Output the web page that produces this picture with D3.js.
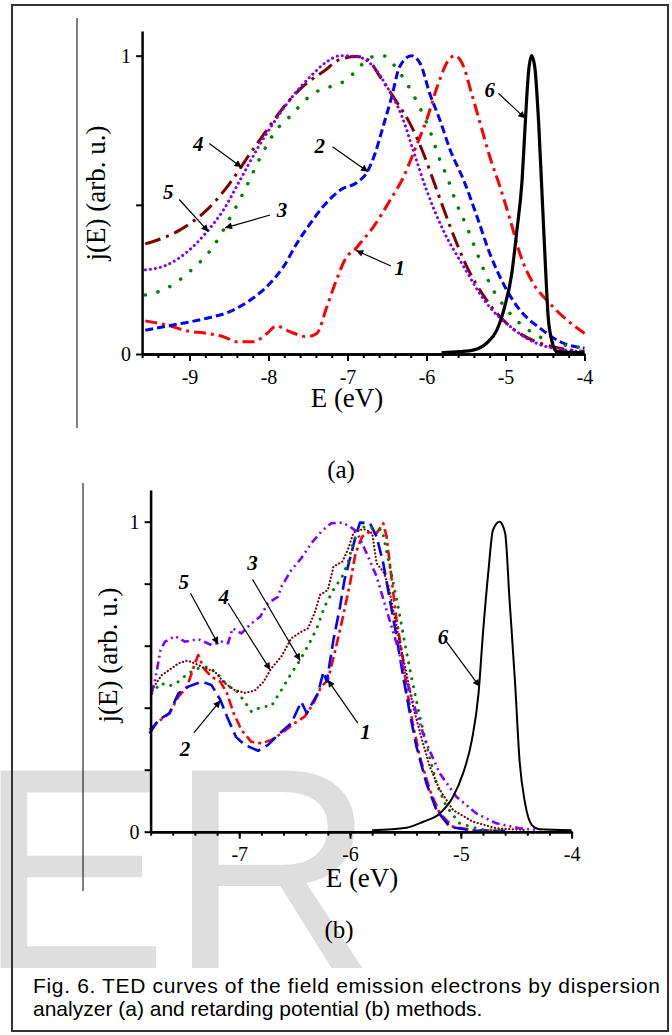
<!DOCTYPE html>
<html>
<head>
<meta charset="utf-8">
<script src="https://cdn.jsdelivr.net/npm/d3@7"></script>
<style>
  body { margin: 0; background: #fff; }
  svg { display: block; }
</style>
</head>
<body>
<script>
// ---- panel (a): dispersion analyzer, [E (eV), j (arb. u.)]
const a1 = [[-9.56,0.111],[-9.29,0.097],[-9.04,0.078],[-8.78,0.069],[-8.57,0.058],[-8.40,0.041],[-8.19,0.041],[-8.02,0.069],[-7.90,0.094],[-7.73,0.075],[-7.52,0.058],[-7.39,0.069],[-7.26,0.159],[-7.14,0.248],[-7.01,0.326],[-6.91,0.349],[-6.84,0.371],[-6.67,0.427],[-6.46,0.516],[-6.29,0.594],[-6.15,0.684],[-6.0,0.784],[-5.85,0.907],[-5.72,0.986],[-5.64,1.0],[-5.53,0.963],[-5.43,0.874],[-5.32,0.773],[-5.20,0.662],[-5.07,0.561],[-4.94,0.449],[-4.82,0.338],[-4.65,0.237],[-4.48,0.181],[-4.27,0.125],[-4.0,0.069]];
const a2 = [[-9.56,0.080],[-9.21,0.097],[-8.78,0.120],[-8.49,0.142],[-8.23,0.181],[-8.02,0.226],[-7.81,0.293],[-7.64,0.371],[-7.47,0.438],[-7.31,0.494],[-7.09,0.550],[-6.88,0.575],[-6.76,0.606],[-6.65,0.673],[-6.55,0.762],[-6.44,0.863],[-6.34,0.963],[-6.19,1.0],[-6.08,0.974],[-5.96,0.874],[-5.83,0.784],[-5.70,0.684],[-5.53,0.583],[-5.36,0.460],[-5.20,0.338],[-5.03,0.237],[-4.82,0.148],[-4.56,0.086],[-4.31,0.041],[-4.0,0.019]];
const a3 = [[-9.56,0.198],[-9.29,0.220],[-9.0,0.276],[-8.70,0.360],[-8.49,0.455],[-8.28,0.561],[-8.11,0.656],[-7.90,0.751],[-7.73,0.796],[-7.43,0.874],[-7.22,0.896],[-7.05,0.913],[-6.88,0.952],[-6.72,0.994],[-6.55,1.0],[-6.38,0.958],[-6.25,0.907],[-6.06,0.812],[-5.96,0.751],[-5.83,0.650],[-5.74,0.594],[-5.62,0.505],[-5.49,0.427],[-5.36,0.338],[-5.20,0.237],[-4.98,0.148],[-4.77,0.092],[-4.61,0.064],[-4.39,0.036],[-4.18,0.027],[-4.0,0.019]];
const a4 = [[-9.56,0.369],[-9.12,0.416],[-8.78,0.483],[-8.49,0.572],[-8.23,0.673],[-8.02,0.751],[-7.77,0.840],[-7.52,0.907],[-7.31,0.946],[-7.09,0.988],[-6.88,0.997],[-6.74,0.986],[-6.59,0.930],[-6.38,0.846],[-6.21,0.773],[-6.04,0.673],[-5.87,0.550],[-5.70,0.427],[-5.49,0.293],[-5.24,0.181],[-4.94,0.092],[-4.61,0.041],[-4.31,0.019],[-4.0,0.008]];
const a5 = [[-9.56,0.282],[-9.29,0.298],[-9.0,0.349],[-8.76,0.416],[-8.57,0.483],[-8.36,0.583],[-8.15,0.684],[-7.94,0.773],[-7.73,0.852],[-7.47,0.930],[-7.26,0.980],[-7.09,1.0],[-6.88,0.997],[-6.72,0.976],[-6.50,0.896],[-6.31,0.796],[-6.17,0.684],[-6.0,0.550],[-5.79,0.416],[-5.53,0.293],[-5.24,0.170],[-4.94,0.092],[-4.61,0.036],[-4.30,0.015],[-4.0,0.008]];
const a6 = [[-5.81,0.004],[-5.58,0.008],[-5.41,0.013],[-5.24,0.036],[-5.11,0.080],[-5.01,0.159],[-4.92,0.271],[-4.86,0.405],[-4.79,0.583],[-4.75,0.773],[-4.71,0.941],[-4.67,1.0],[-4.63,0.963],[-4.58,0.773],[-4.54,0.550],[-4.50,0.326],[-4.46,0.125],[-4.41,0.041],[-4.35,0.008],[-4.0,0.004]];

// ---- panel (b): retarding potential
const b1 = [[-7.81,0.328],[-7.73,0.355],[-7.63,0.382],[-7.55,0.435],[-7.47,0.468],[-7.40,0.543],[-7.37,0.570],[-7.32,0.527],[-7.25,0.500],[-7.17,0.484],[-7.11,0.446],[-7.05,0.382],[-6.98,0.328],[-6.89,0.290],[-6.80,0.285],[-6.71,0.296],[-6.62,0.317],[-6.50,0.350],[-6.41,0.371],[-6.33,0.414],[-6.26,0.468],[-6.20,0.489],[-6.14,0.575],[-6.07,0.683],[-6.0,0.801],[-5.95,0.898],[-5.89,0.952],[-5.82,0.968],[-5.76,0.963],[-5.70,0.995],[-5.67,0.952],[-5.62,0.801],[-5.58,0.683],[-5.53,0.575],[-5.49,0.468],[-5.44,0.360],[-5.37,0.242],[-5.28,0.135],[-5.19,0.059],[-5.07,0.016],[-4.89,0.005],[-4.60,0.003]];
const b2 = [[-7.81,0.317],[-7.73,0.360],[-7.63,0.382],[-7.55,0.446],[-7.46,0.468],[-7.34,0.484],[-7.25,0.473],[-7.17,0.425],[-7.11,0.371],[-7.03,0.306],[-6.95,0.280],[-6.83,0.261],[-6.74,0.280],[-6.65,0.312],[-6.53,0.350],[-6.44,0.419],[-6.39,0.382],[-6.35,0.409],[-6.29,0.446],[-6.24,0.516],[-6.21,0.484],[-6.15,0.618],[-6.09,0.726],[-6.05,0.812],[-5.98,0.909],[-5.95,0.952],[-5.91,0.997],[-5.82,0.995],[-5.76,0.952],[-5.70,0.866],[-5.64,0.747],[-5.58,0.629],[-5.52,0.500],[-5.46,0.382],[-5.40,0.274],[-5.31,0.156],[-5.22,0.070],[-5.10,0.016],[-4.89,0.003],[-4.60,0.002]];
const b3 = [[-7.79,0.446],[-7.71,0.479],[-7.63,0.470],[-7.55,0.484],[-7.46,0.511],[-7.37,0.527],[-7.28,0.532],[-7.20,0.511],[-7.11,0.473],[-7.02,0.452],[-6.95,0.419],[-6.89,0.387],[-6.80,0.403],[-6.71,0.405],[-6.62,0.457],[-6.53,0.511],[-6.45,0.554],[-6.36,0.613],[-6.30,0.656],[-6.23,0.726],[-6.15,0.780],[-6.07,0.823],[-6.02,0.866],[-5.97,0.935],[-5.91,0.984],[-5.79,0.979],[-5.71,0.973],[-5.64,0.855],[-5.56,0.715],[-5.50,0.597],[-5.44,0.489],[-5.37,0.371],[-5.29,0.253],[-5.22,0.156],[-5.13,0.081],[-5.01,0.027],[-4.83,0.008],[-4.59,0.003]];
const b4 = [[-7.79,0.457],[-7.70,0.505],[-7.61,0.527],[-7.55,0.543],[-7.47,0.552],[-7.40,0.543],[-7.31,0.527],[-7.22,0.516],[-7.13,0.479],[-7.04,0.457],[-6.95,0.448],[-6.86,0.455],[-6.78,0.484],[-6.71,0.527],[-6.62,0.565],[-6.53,0.624],[-6.44,0.645],[-6.38,0.656],[-6.32,0.705],[-6.27,0.764],[-6.20,0.780],[-6.15,0.855],[-6.07,0.871],[-6.02,0.909],[-5.97,0.963],[-5.94,0.973],[-5.86,0.975],[-5.80,0.963],[-5.76,0.866],[-5.70,0.839],[-5.65,0.790],[-5.61,0.715],[-5.55,0.608],[-5.49,0.511],[-5.43,0.403],[-5.35,0.296],[-5.28,0.210],[-5.19,0.135],[-5.07,0.070],[-4.89,0.032],[-4.68,0.011],[-4.41,0.005]];
const b5 = [[-7.79,0.448],[-7.76,0.489],[-7.71,0.586],[-7.67,0.613],[-7.58,0.631],[-7.49,0.613],[-7.37,0.621],[-7.25,0.602],[-7.16,0.613],[-7.10,0.608],[-7.06,0.656],[-6.98,0.640],[-6.89,0.672],[-6.81,0.694],[-6.74,0.737],[-6.65,0.758],[-6.62,0.790],[-6.53,0.844],[-6.44,0.882],[-6.35,0.930],[-6.26,0.968],[-6.17,0.995],[-6.07,0.997],[-6.0,0.984],[-5.94,0.968],[-5.85,0.898],[-5.76,0.823],[-5.67,0.715],[-5.58,0.608],[-5.49,0.489],[-5.40,0.382],[-5.31,0.285],[-5.19,0.188],[-5.04,0.113],[-4.86,0.059],[-4.68,0.027],[-4.47,0.011],[-4.29,0.005]];
const b6 = [[-5.80,0.005],[-5.49,0.013],[-5.34,0.032],[-5.19,0.059],[-5.07,0.113],[-4.98,0.188],[-4.90,0.296],[-4.84,0.446],[-4.80,0.640],[-4.75,0.844],[-4.71,0.973],[-4.65,1.0],[-4.60,0.963],[-4.56,0.747],[-4.51,0.479],[-4.47,0.231],[-4.42,0.092],[-4.36,0.022],[-4.29,0.008],[-4.0,0.005]];

// curve labels: [text, label E, label j, arrow from E, j, arrow to E, j]
const aNotes = [
  ["1", -6.34, 0.291, -6.45, 0.295, -6.89, 0.347],
  ["2", -7.35, 0.697, -7.19, 0.695, -6.74, 0.611],
  ["3", -7.83, 0.483, -7.98, 0.466, -8.55, 0.423],
  ["4", -8.89, 0.706, -8.75, 0.706, -8.34, 0.626],
  ["5", -9.27, 0.544, -9.13, 0.518, -8.76, 0.410],
  ["6", -5.20, 0.885, -5.09, 0.874, -4.75, 0.790]
];
const bNotes = [
  ["1", -5.86, 0.323, -5.93, 0.350, -6.20, 0.489],
  ["2", -7.49, 0.269, -7.41, 0.319, -7.17, 0.423],
  ["3", -6.88, 0.868, -6.88, 0.814, -6.45, 0.552],
  ["4", -7.14, 0.758, -7.10, 0.737, -6.72, 0.522],
  ["5", -7.50, 0.806, -7.44, 0.769, -7.19, 0.605],
  ["6", -5.16, 0.629, -5.13, 0.613, -4.83, 0.468]
];

const aMajor = [-9, -8, -7, -6, -5, -4];
const bMajor = [-7, -6, -5, -4];
const caption = ["Fig. 6. TED curves of the field emission electrons by dispersion",
                 "analyzer (a) and retarding potential (b) methods."];

const W = 672, H = 1035;
const serif = "'Liberation Serif', 'Times New Roman', serif";
const sans = "'Liberation Sans', Arial, sans-serif";

const svg = d3.select("body").append("svg")
    .attr("width", W).attr("height", H);

// arrow head
svg.append("defs").append("marker")
    .attr("id", "arr")
    .attr("markerUnits", "userSpaceOnUse")
    .attr("viewBox", "0 0 10 10")
    .attr("refX", 10).attr("refY", 5)
    .attr("markerWidth", 9).attr("markerHeight", 7)
    .attr("orient", "auto")
  .append("path")
    .attr("d", "M0,0 L10,5 L0,10 z")
    .attr("fill", "#000");

// watermark in the background
svg.append("text")
    .attr("x", -23).attr("y", 968)
    .attr("font-family", sans)
    .attr("font-size", 287)
    .attr("fill", "#dedede")
    .text("ER");

// page frame + side rules
svg.append("rect")
    .attr("x", 12).attr("y", 5).attr("width", 656).attr("height", 1026)
    .attr("fill", "none").attr("stroke", "#333").attr("stroke-width", 2);
svg.append("line").attr("x1", 77).attr("x2", 77).attr("y1", 18).attr("y2", 428)
    .attr("stroke", "#000").attr("stroke-width", 1);
svg.append("line").attr("x1", 83).attr("x2", 83).attr("y1", 483).attr("y2", 891)
    .attr("stroke", "#000").attr("stroke-width", 1);

function drawPanel(p) {
    const x = d3.scaleLinear().domain(p.xDomain).range(p.xRange);
    const y = d3.scaleLinear().domain([0, 1]).range(p.yRange);
    y.domain([0, y.invert(p.yTop)]).range([p.yRange[0], p.yTop]);

    const g = svg.append("g");

    // curves
    p.series.forEach(s => {
        const line = d3.line()
            .x(d => x(d[0]))
            .y(d => y(d[1]))
            .curve(s.curve || p.curve);
        g.append("path")
            .datum(s.data)
            .attr("d", line)
            .attr("fill", "none")
            .attr("stroke", s.color)
            .attr("stroke-width", s.width)
            .attr("stroke-dasharray", s.dash)
            .attr("stroke-linecap", s.cap || "butt")
            .attr("stroke-linejoin", "round");
    });

    // minor + major x ticks
    const minors = d3.range(Math.round(p.xDomain[0] * 5), Math.round(p.xDomain[1] * 5) + 1).map(v => v / 5);
    g.append("g")
        .attr("transform", `translate(0,${y(0)})`)
        .call(d3.axisBottom(x).tickValues(minors).tickSize(4).tickSizeOuter(0).tickFormat(""));
    const xa = g.append("g")
        .attr("transform", `translate(0,${y(0)})`)
        .call(d3.axisBottom(x).tickValues(p.major).tickSize(7).tickSizeOuter(0).tickPadding(p.xPad)
              .tickFormat(d => d.toString()));
    xa.selectAll("text").attr("font-family", serif).attr("font-size", 20).attr("fill", "#000");

    const ya = g.append("g")
        .attr("transform", `translate(${x(p.xDomain[0])},0)`)
        .call(d3.axisLeft(y).tickValues(p.yTicks).tickSize(6).tickSizeOuter(0).tickPadding(5)
              .tickFormat(d => (d === 0 || d === 1) ? d.toString() : ""));
    ya.selectAll("text").attr("font-family", serif).attr("font-size", 20).attr("fill", "#000");

    g.selectAll(".domain").attr("stroke", "#000").attr("stroke-width", 2.5);
    g.selectAll(".tick line").attr("stroke", "#000").attr("stroke-width", 2);

    // axis titles
    g.append("text")
        .attr("x", p.xTitle[0]).attr("y", p.xTitle[1])
        .attr("text-anchor", "middle")
        .attr("font-family", serif).attr("font-size", 27)
        .text("E (eV)");
    g.append("text")
        .attr("transform", `translate(${p.yTitle[0]},${p.yTitle[1]}) rotate(-90)`)
        .attr("text-anchor", "middle")
        .attr("font-family", serif).attr("font-size", 27)
        .text("j(E) (arb. u.)");
    g.append("text")
        .attr("x", p.tag[0]).attr("y", p.tag[1])
        .attr("text-anchor", "middle")
        .attr("font-family", serif).attr("font-size", 25)
        .text(p.tag[2]);

    // curve numbers with arrows
    p.notes.forEach(n => {
        g.append("line")
            .attr("x1", x(n[3])).attr("y1", y(n[4]))
            .attr("x2", x(n[5])).attr("y2", y(n[6]))
            .attr("stroke", "#000").attr("stroke-width", 1.2)
            .attr("marker-end", "url(#arr)");
        g.append("text")
            .attr("x", x(n[1])).attr("y", y(n[2]))
            .attr("dy", "0.35em")
            .attr("text-anchor", "middle")
            .attr("font-family", serif).attr("font-size", 21)
            .attr("font-weight", "bold").attr("font-style", "italic")
            .text(n[0]);
    });
}

drawPanel({
    xDomain: [-9.6, -4], xRange: [142.1, 584.5],
    yRange: [354, 55.7], yTop: 31,
    major: aMajor, yTicks: [0, 0.5, 1], xPad: 9,
    curve: d3.curveMonotoneX,
    xTitle: [347, 407], yTitle: [105, 193], tag: [341, 478, "(a)"],
    notes: aNotes,
    series: [
        { data: a1, color: "#ff0000", width: 3, dash: "12,5,3,5" },
        { data: a2, color: "#0000ff", width: 3, dash: "8,4" },
        { data: a3, color: "#008000", width: 3.5, dash: "0.1,13", cap: "round" },
        { data: a4, color: "#800000", width: 3, dash: "16,6,3,6" },
        { data: a5, color: "#8000ff", width: 3, dash: "0.1,5", cap: "round" },
        { data: a6, color: "#000000", width: 3.2, dash: null }
    ]
});

drawPanel({
    xDomain: [-7.8, -4], xRange: [150.6, 571.6],
    yRange: [831.7, 521.7], yTop: 490,
    major: bMajor, yTicks: [0, 0.2, 0.4, 0.6, 0.8, 1], xPad: 8,
    curve: d3.curveLinear,
    xTitle: [362, 887], yTitle: [117, 655], tag: [339, 938, "(b)"],
    notes: bNotes,
    series: [
        { data: b1, color: "#ff0000", width: 2.6, dash: "10,4,3,4" },
        { data: b2, color: "#0000ff", width: 2.6, dash: "14,6" },
        { data: b3, color: "#008000", width: 3, dash: "0.1,8", cap: "round" },
        { data: b4, color: "#800000", width: 2.2, dash: "0.1,3.5", cap: "round" },
        { data: b5, color: "#8000ff", width: 2.6, dash: "8,4,2,4,2,4" },
        { data: b6, color: "#000000", width: 2, dash: null, curve: d3.curveMonotoneX }
    ]
});

// caption, first line justified to the frame
svg.append("g").selectAll("text")
    .data(caption)
    .enter().append("text")
      .attr("x", 33)
      .attr("y", (d, i) => 993 + i * 23)
      .attr("font-family", sans)
      .attr("font-size", 21)
      .attr("fill", "#000")
      .attr("textLength", (d, i) => i === 0 ? 627 : null)
      .attr("lengthAdjust", "spacing")
      .text(d => d);
</script>
</body>
</html>
